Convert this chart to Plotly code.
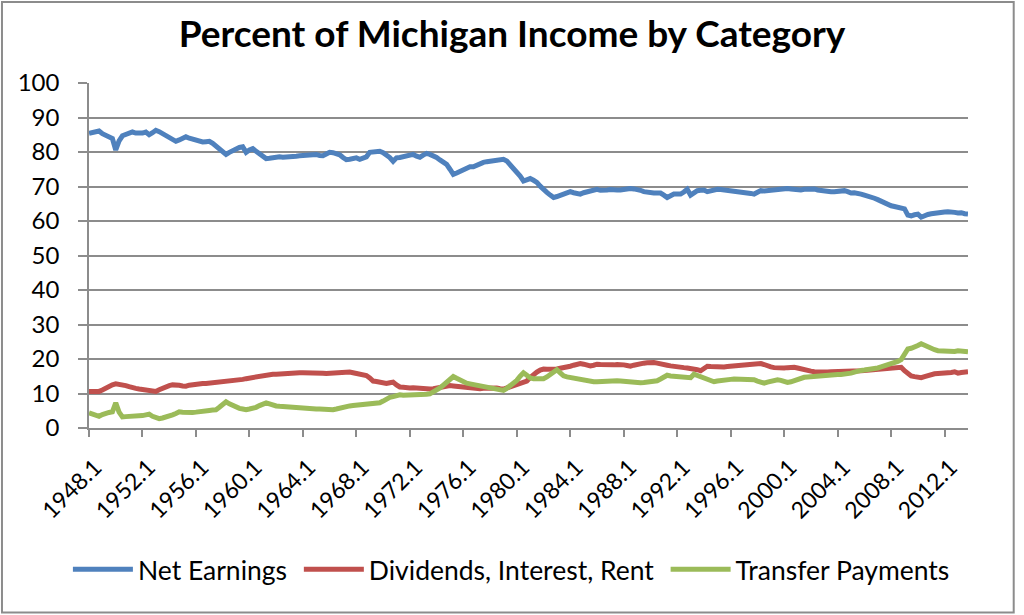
import plotly.graph_objects as go

# quarterly periods 1948.1 .. 2013.4
years = list(range(1948, 2014))
quarters = [f"{y}.{q}" for y in years for q in range(1, 5)]
tick_labels = [f"{y}.1" for y in range(1948, 2013, 4)]

net_earnings = [
    85.4, 85.6, 85.9, 86.1, 85.3, 84.7, 84.2, 83.9, 80.6, 83.2, 84.7, 85.0, 85.3, 85.8, 85.5, 85.4,
    85.5, 85.8, 85.0, 85.6, 86.3, 85.9, 85.4, 84.9, 84.3, 83.7, 83.1, 83.5, 83.9, 84.4, 84.0, 83.7,
    83.3, 83.0, 82.9, 83.0, 83.1, 82.5, 81.8, 81.0, 80.2, 79.3, 79.9, 80.5, 80.9, 81.3, 81.5, 79.9,
    80.6, 81.0, 80.2, 79.5, 78.7, 78.1, 78.2, 78.4, 78.5, 78.6, 78.5, 78.5, 78.5, 78.7, 78.8, 78.9,
    79.0, 78.9, 79.1, 79.2, 79.3, 79.0, 78.9, 79.4, 79.9, 79.8, 79.6, 79.2, 78.4, 77.8, 77.9, 78.1,
    78.3, 77.9, 78.1, 78.6, 79.9, 80.0, 80.1, 80.2, 79.8, 79.3, 78.4, 77.3, 78.3, 78.4, 78.6, 78.8,
    79.0, 79.3, 78.8, 78.5, 79.1, 79.6, 79.3, 78.9, 78.4, 77.7, 77.0, 76.4, 75.0, 73.5, 73.9, 74.3,
    74.8, 75.3, 75.7, 75.7, 76.2, 76.6, 77.0, 77.2, 77.4, 77.6, 77.7, 77.8, 77.9, 77.4, 76.3, 75.2,
    74.5, 73.0, 71.6, 71.9, 72.3, 71.8, 71.2, 70.1, 69.0, 68.3, 67.5, 66.8, 67.1, 67.5, 67.8, 68.2,
    68.5, 68.2, 68.0, 67.8, 68.2, 68.5, 68.8, 69.0, 69.2, 68.9, 68.8, 69.0, 69.1, 69.2, 69.0, 69.0,
    69.2, 69.3, 69.4, 69.3, 69.2, 68.9, 68.5, 68.3, 68.2, 68.1, 68.1, 68.1, 67.5, 66.8, 67.3, 67.8,
    67.8, 67.8, 68.4, 69.2, 67.5, 68.2, 68.8, 68.9, 69.0, 68.5, 68.8, 69.0, 69.2, 69.1, 69.0, 69.0,
    68.8, 68.5, 68.4, 68.3, 68.2, 68.1, 68.0, 67.8, 68.3, 68.8, 68.7, 68.8, 69.0, 69.2, 69.3, 69.3,
    69.4, 69.4, 69.3, 69.1, 69.0, 69.0, 69.2, 69.3, 69.4, 69.3, 69.0, 68.8, 68.7, 68.6, 68.5, 68.5,
    68.6, 68.7, 68.8, 68.5, 68.1, 68.2, 68.1, 67.8, 67.5, 67.3, 67.0, 66.6, 66.2, 65.7, 65.2, 64.8,
    64.4, 64.2, 63.9, 63.7, 63.5, 61.7, 61.5, 61.8, 62.0, 61.1, 61.7, 61.9, 62.1, 62.3, 62.2, 62.7,
    62.6, 62.7, 62.7, 62.5, 62.3, 62.4, 62.1, 62.0,
]

dividends = [
    10.6, 10.5, 10.5, 10.6, 11.0, 11.6, 12.0, 12.5, 12.8, 12.7, 12.6, 12.3, 12.0, 11.6, 11.5, 11.3,
    11.2, 11.1, 11.1, 10.9, 10.6, 11.1, 11.6, 12.1, 12.3, 12.5, 12.6, 12.4, 12.2, 12.1, 12.4, 12.6,
    12.8, 12.8, 12.9, 12.9, 13.0, 13.2, 13.3, 13.4, 13.5, 13.6, 13.5, 13.6, 13.6, 13.9, 14.1, 14.3,
    14.5, 14.7, 14.9, 15.1, 15.3, 15.5, 15.5, 15.6, 15.6, 15.7, 15.8, 15.8, 15.9, 16.0, 15.9, 16.0,
    16.0, 16.0, 16.1, 16.2, 16.0, 15.9, 15.9, 15.8, 15.9, 16.0, 15.9, 16.0, 16.2, 16.4, 16.2, 16.0,
    15.8, 15.6, 15.4, 15.2, 14.5, 13.6, 13.5, 13.3, 13.1, 12.9, 13.1, 13.3, 12.5, 11.9, 11.8, 11.6,
    11.6, 11.7, 11.6, 11.4, 11.2, 11.1, 11.3, 11.4, 11.6, 11.8, 12.0, 12.3, 12.3, 12.2, 12.1, 12.0,
    11.8, 11.6, 11.5, 11.4, 11.3, 11.4, 11.5, 11.6, 11.6, 11.5, 11.6, 11.4, 11.3, 11.6, 11.9, 12.2,
    12.6, 12.9, 13.2, 13.6, 14.6, 15.6, 16.2, 16.8, 17.1, 17.0, 17.0, 16.9, 17.1, 17.3, 17.4, 17.6,
    17.9, 18.2, 18.5, 18.7, 18.5, 18.2, 18.0, 18.2, 18.5, 18.4, 18.3, 18.2, 18.2, 18.3, 18.4, 18.5,
    18.3, 18.1, 17.9, 18.2, 18.5, 18.7, 18.8, 18.9, 19.0, 19.0, 18.8, 18.7, 18.5, 18.2, 18.0, 17.8,
    17.7, 17.6, 17.5, 17.4, 17.3, 17.1, 16.9, 16.6, 17.3, 17.9, 17.8, 17.7, 17.6, 17.6, 17.7, 17.8,
    17.9, 18.0, 18.1, 18.3, 18.4, 18.5, 18.5, 18.6, 18.6, 18.7, 18.4, 17.9, 17.7, 17.5, 17.4, 17.3,
    17.4, 17.5, 17.6, 17.6, 17.4, 17.1, 16.8, 16.6, 16.5, 16.3, 16.2, 16.1, 16.2, 16.2, 16.3, 16.3,
    16.4, 16.5, 16.5, 16.6, 16.6, 16.6, 16.5, 16.6, 16.7, 16.8, 16.8, 16.9, 17.0, 17.1, 17.2, 17.3,
    17.4, 17.4, 17.5, 17.6, 16.6, 15.8, 15.1, 14.9, 14.8, 14.6, 14.9, 15.2, 15.6, 15.7, 15.8, 15.8,
    15.9, 16.0, 16.1, 16.3, 15.9, 16.1, 16.2, 16.3,
]

transfers = [
    4.4, 4.0, 3.7, 3.4, 3.9, 4.4, 4.5, 4.7, 7.3, 4.6, 3.2, 3.3, 3.3, 3.4, 3.4, 3.5,
    3.6, 3.8, 4.0, 3.4, 3.0, 2.7, 2.9, 3.1, 3.4, 3.8, 4.2, 4.7, 4.6, 4.5, 4.4, 4.5,
    4.6, 4.8, 5.0, 5.0, 5.1, 5.2, 5.3, 6.0, 6.8, 7.6, 7.0, 6.5, 6.1, 5.7, 5.5, 5.3,
    5.5, 5.6, 6.0, 6.5, 6.9, 7.3, 7.0, 6.6, 6.4, 6.3, 6.2, 6.2, 6.1, 6.1, 6.0, 5.9,
    5.8, 5.8, 5.7, 5.6, 5.5, 5.5, 5.4, 5.3, 5.5, 5.3, 5.5, 5.8, 6.0, 6.3, 6.4, 6.5,
    6.6, 6.8, 6.9, 6.9, 7.0, 7.1, 7.2, 7.3, 7.8, 8.4, 8.9, 9.1, 9.4, 9.6, 9.5, 9.5,
    9.6, 9.6, 9.6, 9.7, 9.7, 9.8, 9.9, 10.4, 11.0, 11.6, 12.4, 13.3, 14.1, 14.9, 14.4, 13.9,
    13.3, 13.0, 12.8, 12.6, 12.4, 12.1, 11.9, 11.6, 11.4, 11.2, 11.1, 11.0, 10.9, 11.5, 12.2, 12.9,
    13.8, 15.0, 16.0, 15.3, 14.5, 14.3, 14.2, 14.3, 14.3, 14.8, 15.4, 16.1, 16.9, 16.0, 15.1, 14.8,
    14.6, 14.4, 14.1, 13.9, 13.8, 13.6, 13.5, 13.4, 13.4, 13.5, 13.6, 13.6, 13.7, 13.7, 13.7, 13.6,
    13.5, 13.4, 13.3, 13.2, 13.0, 13.1, 13.2, 13.3, 13.5, 13.6, 13.7, 14.2, 14.8, 15.3, 15.1, 15.0,
    14.9, 14.9, 14.8, 14.7, 14.6, 15.6, 15.2, 14.9, 14.5, 14.1, 13.7, 13.4, 13.6, 13.8, 13.9, 14.0,
    14.1, 14.2, 14.2, 14.3, 14.3, 14.3, 14.2, 14.0, 13.6, 13.2, 13.0, 13.3, 13.6, 13.8, 14.0, 13.8,
    13.5, 13.2, 13.4, 13.8, 14.2, 14.6, 14.7, 14.8, 14.9, 15.0, 15.1, 15.3, 15.3, 15.4, 15.4, 15.5,
    15.5, 15.5, 15.6, 15.6, 15.9, 16.2, 16.6, 16.7, 16.8, 16.9, 17.0, 17.1, 17.4, 17.7, 18.0, 18.3,
    18.5, 18.9, 19.3, 19.8, 21.3, 22.9, 23.1, 23.4, 23.9, 24.4, 23.9, 23.4, 23.0, 22.7, 22.4, 22.3,
    22.2, 22.1, 22.1, 22.2, 22.4, 22.2, 22.1, 22.1,
]

FONT = "Lato"
GRID = "#8c8c8c"
GAP = "\u00a0"  # a little extra room between legend entries

idx = list(range(len(quarters)))

fig = go.Figure()
for name, vals, color, pad in [
    ("Net Earnings", net_earnings, "#4f81bd", GAP),
    ("Dividends, Interest, Rent", dividends, "#c0504d", GAP),
    ("Transfer Payments", transfers, "#9bbb59", ""),
]:
    fig.add_trace(go.Scatter(
        x=idx, y=vals, name=name + pad, mode="lines",
        line=dict(color=color, width=5),
        text=quarters, hovertemplate="%{text}: %{y:.1f}<extra>" + name + "</extra>",
    ))

fig.update_layout(
    width=1024, height=615,
    margin=dict(l=89, r=56, t=83, b=187),
    paper_bgcolor="white", plot_bgcolor="white",
    font=dict(family=FONT, size=24, color="black"),
    title=dict(
        text="<b>Percent of Michigan Income by Category</b>",
        x=0.5, xanchor="center", y=0.944, yanchor="middle",
        font=dict(family=FONT, size=37, color="black"),
    ),
    xaxis=dict(
        range=[0, len(quarters) - 1],
        tickvals=[quarters.index(t) for t in tick_labels],
        ticktext=tick_labels,
        tickangle=-45,
        ticks="outside", ticklen=7, tickcolor=GRID, tickwidth=1.5,
        showline=True, linecolor=GRID, linewidth=1.5,
        showgrid=False, zeroline=False, automargin=False,
        tickfont=dict(size=23), ticklabelstandoff=8, ticklabelshift=6,
    ),
    yaxis=dict(
        range=[0, 100], dtick=10,
        ticks="outside", ticklen=9, tickcolor=GRID, tickwidth=1.5,
        showline=True, linecolor=GRID, linewidth=1.5,
        showgrid=True, gridcolor=GRID, gridwidth=1.5,
        zeroline=False, automargin=False,
        tickfont=dict(size=24), ticklabelstandoff=14,
    ),
    # anchored left of the plot area so the single row may use the full width
    legend=dict(
        orientation="h", x=-0.024, xanchor="left", y=-0.41, yanchor="middle",
        font=dict(size=26.5), itemwidth=60, tracegroupgap=0,
    ),
    shapes=[dict(
        type="rect", xref="paper", yref="paper",
        x0=-0.099, x1=1.052, y0=-0.535, y1=1.235,
        line=dict(color="#8c8c8c", width=2),
    )],
)

# drop the default page margin so the chart sits at the window's top-left corner
fig.write_html(
    "out.html",
    config={"displayModeBar": False},
    post_script="document.body.style.margin = '0';",
)
